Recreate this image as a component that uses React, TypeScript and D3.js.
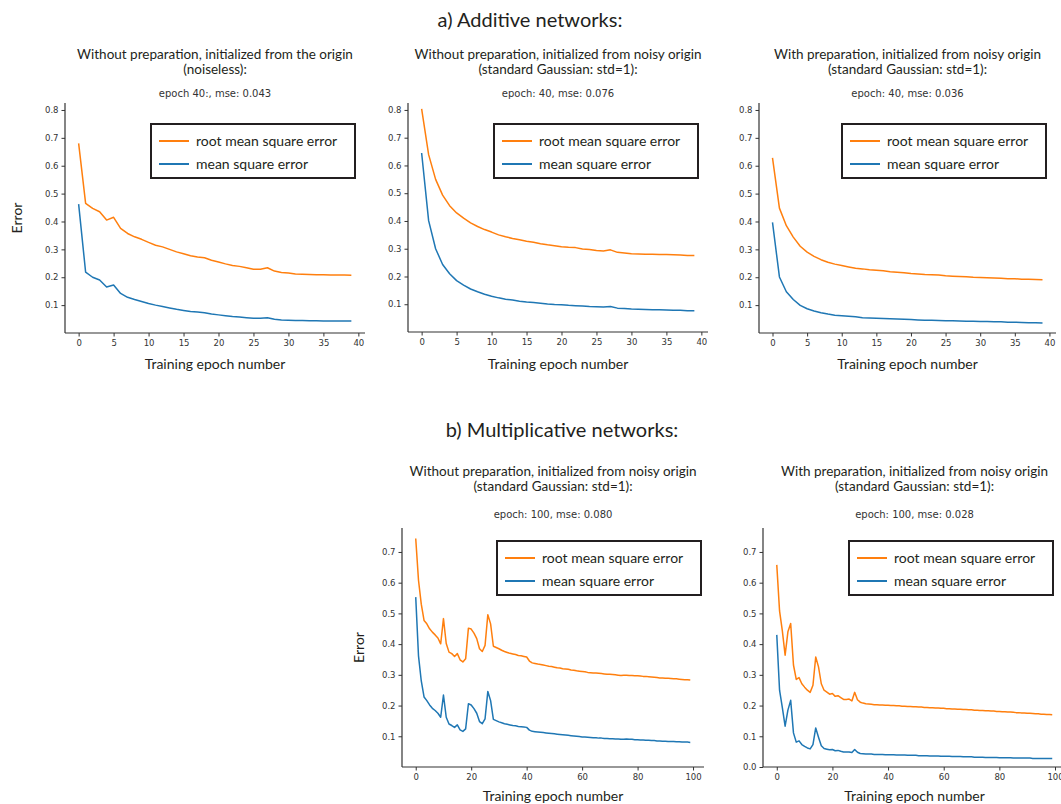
import React, { useEffect, useRef } from "react";
import * as d3 from "d3";

// ---- data ----
const topEpochs = d3.range(0, 40);
const bottomEpochs = d3.range(0, 100);

const p1Rmse = [0.680,0.465,0.447,0.435,0.405,0.415,0.375,0.357,0.345,0.336,0.325,0.315,0.309,0.300,0.291,0.284,0.277,0.273,0.270,0.261,0.255,0.248,0.242,0.239,0.234,0.229,0.229,0.234,0.222,0.217,0.215,0.212,0.211,0.210,0.209,0.209,0.208,0.208,0.208,0.207];
const p1Mse = [0.462,0.218,0.200,0.190,0.165,0.172,0.142,0.128,0.120,0.113,0.106,0.100,0.095,0.090,0.085,0.081,0.077,0.075,0.073,0.068,0.065,0.062,0.059,0.057,0.055,0.053,0.053,0.055,0.049,0.047,0.046,0.045,0.045,0.044,0.044,0.043,0.043,0.043,0.043,0.043];

const p2Rmse = [0.804,0.639,0.550,0.493,0.455,0.429,0.410,0.393,0.380,0.369,0.360,0.350,0.343,0.337,0.332,0.327,0.323,0.318,0.314,0.311,0.307,0.305,0.304,0.299,0.297,0.294,0.292,0.296,0.287,0.285,0.282,0.281,0.280,0.280,0.279,0.279,0.278,0.277,0.276,0.276];
const p2Mse = [0.645,0.401,0.300,0.243,0.210,0.185,0.169,0.155,0.145,0.136,0.129,0.123,0.118,0.115,0.111,0.108,0.106,0.104,0.101,0.099,0.098,0.096,0.095,0.094,0.092,0.091,0.090,0.092,0.086,0.085,0.083,0.082,0.081,0.080,0.080,0.079,0.078,0.078,0.077,0.077];

const p3Rmse = [0.628,0.448,0.385,0.344,0.311,0.290,0.275,0.263,0.254,0.247,0.242,0.237,0.232,0.230,0.227,0.225,0.223,0.220,0.218,0.216,0.213,0.212,0.210,0.209,0.208,0.205,0.204,0.203,0.202,0.200,0.199,0.198,0.197,0.196,0.195,0.195,0.193,0.193,0.192,0.191];
const p3Mse = [0.397,0.201,0.148,0.120,0.099,0.087,0.079,0.073,0.068,0.064,0.062,0.060,0.058,0.055,0.054,0.053,0.052,0.051,0.050,0.049,0.048,0.047,0.046,0.046,0.045,0.044,0.044,0.043,0.042,0.042,0.041,0.041,0.040,0.040,0.039,0.039,0.038,0.037,0.037,0.036];

const p4Rmse = [
  0.744,0.608,0.530,0.477,0.466,0.450,0.439,0.430,0.420,0.401,
  0.483,0.402,0.374,0.369,0.360,0.369,0.349,0.342,0.352,0.452,
  0.449,0.436,0.418,0.385,0.376,0.396,0.496,0.466,0.393,0.389,
  0.385,0.380,0.376,0.373,0.370,0.368,0.366,0.363,0.362,0.360,
  0.358,0.345,0.339,0.337,0.335,0.334,0.332,0.330,0.328,0.327,
  0.325,0.323,0.322,0.320,0.319,0.318,0.316,0.315,0.313,0.312,
  0.311,0.310,0.308,0.307,0.306,0.306,0.305,0.304,0.303,0.302,
  0.302,0.301,0.300,0.299,0.298,0.299,0.299,0.298,0.298,0.297,
  0.297,0.296,0.295,0.295,0.294,0.293,0.292,0.291,0.290,0.290,
  0.289,0.289,0.288,0.287,0.287,0.286,0.285,0.284,0.284,0.283,
];
const p4Mse = [
  0.553,0.362,0.280,0.228,0.216,0.202,0.191,0.184,0.175,0.162,
  0.234,0.162,0.140,0.135,0.129,0.137,0.121,0.116,0.124,0.206,
  0.202,0.190,0.175,0.148,0.141,0.157,0.246,0.216,0.155,0.151,
  0.147,0.144,0.141,0.139,0.137,0.135,0.134,0.132,0.131,0.130,
  0.129,0.120,0.116,0.115,0.114,0.113,0.112,0.111,0.110,0.109,
  0.108,0.107,0.106,0.105,0.104,0.103,0.102,0.101,0.100,0.099,
  0.098,0.098,0.097,0.096,0.095,0.095,0.094,0.094,0.093,0.093,
  0.092,0.092,0.091,0.091,0.090,0.090,0.091,0.090,0.090,0.089,
  0.089,0.088,0.088,0.087,0.087,0.086,0.086,0.085,0.085,0.084,
  0.084,0.083,0.083,0.083,0.082,0.082,0.081,0.081,0.081,0.080,
];

const p5Rmse = [
  0.658,0.508,0.443,0.364,0.440,0.467,0.332,0.285,0.291,0.271,
  0.260,0.250,0.243,0.266,0.358,0.326,0.271,0.250,0.244,0.237,
  0.239,0.230,0.232,0.226,0.220,0.220,0.221,0.215,0.243,0.219,
  0.211,0.208,0.206,0.205,0.204,0.203,0.203,0.202,0.202,0.201,
  0.201,0.200,0.200,0.199,0.199,0.198,0.198,0.197,0.197,0.196,
  0.196,0.195,0.195,0.194,0.194,0.193,0.193,0.192,0.192,0.191,
  0.191,0.190,0.190,0.189,0.189,0.188,0.188,0.187,0.187,0.186,
  0.186,0.185,0.185,0.184,0.184,0.183,0.183,0.182,0.182,0.181,
  0.181,0.180,0.180,0.179,0.179,0.178,0.177,0.177,0.176,0.176,
  0.175,0.175,0.174,0.173,0.173,0.172,0.172,0.171,0.171,0.170,
];
const p5Mse = [
  0.430,0.250,0.193,0.133,0.185,0.217,0.111,0.081,0.085,0.073,
  0.067,0.062,0.059,0.073,0.127,0.097,0.069,0.060,0.058,0.056,
  0.057,0.053,0.054,0.051,0.049,0.049,0.049,0.047,0.057,0.048,
  0.044,0.043,0.042,0.042,0.042,0.041,0.041,0.041,0.041,0.040,
  0.040,0.040,0.040,0.039,0.039,0.039,0.039,0.038,0.038,0.038,
  0.038,0.037,0.037,0.037,0.037,0.036,0.036,0.036,0.036,0.035,
  0.035,0.035,0.035,0.034,0.034,0.034,0.034,0.033,0.033,0.033,
  0.033,0.032,0.032,0.032,0.032,0.031,0.031,0.031,0.031,0.031,
  0.030,0.030,0.030,0.030,0.030,0.029,0.029,0.029,0.029,0.029,
  0.029,0.029,0.028,0.028,0.028,0.028,0.028,0.028,0.028,0.028,
];

const topXTicks = [0, 5, 10, 15, 20, 25, 30, 35, 40];
const bottomXTicks = [0, 20, 40, 60, 80, 100];
const topYTicks = [0.1, 0.2, 0.3, 0.4, 0.5, 0.6, 0.7, 0.8];
const p4YTicks = [0.1, 0.2, 0.3, 0.4, 0.5, 0.6, 0.7];
const p5YTicks = [0.0, 0.1, 0.2, 0.3, 0.4, 0.5, 0.6, 0.7];

const legendLabels = ["root mean square error", "mean square error"];
const seriesColors = ["#ff7f0e", "#1f77b4"];

const TITLE_FONT = "Lato, 'Noto Sans', sans-serif";
const TICK_FONT = "'DejaVu Sans', sans-serif";

const panels = [
  { title: ["Without preparation, initialized from the origin", "(noiseless):"], sub: "epoch 40:, mse: 0.043",
    epochs: topEpochs, rmse: p1Rmse, mse: p1Mse, xTicks: topXTicks, yTicks: topYTicks,
    xDomain: [-1.95, 40.95], yDomain: [0, 0.825], box: [65, 103, 365, 333], yLabel: 17, row: 0 },
  { title: ["Without preparation, initialized from noisy origin", "(standard Gaussian: std=1):"], sub: "epoch: 40, mse: 0.076",
    epochs: topEpochs, rmse: p2Rmse, mse: p2Mse, xTicks: topXTicks, yTicks: topYTicks,
    xDomain: [-1.95, 40.95], yDomain: [0, 0.825], box: [408, 103, 708, 332], yLabel: 0, row: 0 },
  { title: ["With preparation, initialized from noisy origin", "(standard Gaussian: std=1):"], sub: "epoch: 40, mse: 0.036",
    epochs: topEpochs, rmse: p3Rmse, mse: p3Mse, xTicks: topXTicks, yTicks: topYTicks,
    xDomain: [-1.95, 40.95], yDomain: [0, 0.825], box: [759, 103, 1056, 333], yLabel: 0, row: 0 },
  { title: ["Without preparation, initialized from noisy origin", "(standard Gaussian: std=1):"], sub: "epoch: 100, mse: 0.080",
    epochs: bottomEpochs, rmse: p4Rmse, mse: p4Mse, xTicks: bottomXTicks, yTicks: p4YTicks,
    xDomain: [-4.95, 103.95], yDomain: [0, 0.778], box: [402, 528, 704, 767], yLabel: 359, row: 1 },
  { title: ["With preparation, initialized from noisy origin", "(standard Gaussian: std=1):"], sub: "epoch: 100, mse: 0.028",
    epochs: bottomEpochs, rmse: p5Rmse, mse: p5Mse, xTicks: bottomXTicks, yTicks: p5YTicks,
    xDomain: [-4.95, 103.95], yDomain: [0, 0.778], box: [763, 528, 1066, 767], yLabel: 0, row: 1 },
];

const App = () => {
  const ref = useRef<SVGSVGElement>(null);

  useEffect(() => {
    const svg = d3.select(ref.current);
    svg.selectAll("*").remove();

    svg.append("rect").attr("width", 1061).attr("height", 804).attr("fill", "white");

    // section titles
    svg.append("text").attr("x", 530).attr("y", 27).attr("text-anchor", "middle")
      .style("font-family", TITLE_FONT).style("font-size", "20px").attr("fill", "#231f20")
      .text("a) Additive networks:");
    svg.append("text").attr("x", 562).attr("y", 437).attr("text-anchor", "middle")
      .style("font-family", TITLE_FONT).style("font-size", "20px").attr("fill", "#231f20")
      .text("b) Multiplicative networks:");

    panels.forEach((p) => {
      const [x0, y0, x1, y1] = p.box;
      const cx = (x0 + x1) / 2;
      const x = d3.scaleLinear().domain(p.xDomain).range([x0, x1]);
      const y = d3.scaleLinear().domain(p.yDomain).range([y1, y0]);
      const g = svg.append("g");

      // titles
      const t1 = p.row === 0 ? 59 : 476;
      p.title.forEach((line, i) => {
        g.append("text").attr("x", cx).attr("y", t1 + i * 15).attr("text-anchor", "middle")
          .style("font-family", TITLE_FONT).style("font-size", "13.5px").attr("fill", "#231f20")
          .text(line);
      });
      g.append("text").attr("x", cx).attr("y", p.row === 0 ? 97 : 518).attr("text-anchor", "middle")
        .style("font-family", TICK_FONT).style("font-size", "10px").attr("fill", "#333")
        .text(p.sub);

      // axes
      const xAxis = d3.axisBottom(x).tickValues(p.xTicks).tickSize(3.5).tickPadding(3)
        .tickFormat(d3.format("d"));
      const yAxis = d3.axisLeft(y).tickValues(p.yTicks).tickSize(3.5).tickPadding(3)
        .tickFormat(d3.format(".1f"));

      const gx = g.append("g").attr("transform", `translate(0,${y1})`).call(xAxis);
      const gy = g.append("g").attr("transform", `translate(${x0},0)`).call(yAxis);
      [gx, gy].forEach((ax) => {
        ax.select(".domain").attr("stroke", "#333").attr("stroke-width", 1.2);
        ax.selectAll(".tick line").attr("stroke", "#333").attr("stroke-width", 1);
        ax.selectAll(".tick text").style("font-family", TICK_FONT).style("font-size", "8.5px")
          .attr("fill", "#333");
      });
      gx.select(".domain").attr("d", `M${x0},0H${x1}`);
      gy.select(".domain").attr("d", `M0,${y0}V${y1}`);

      // axis labels
      g.append("text").attr("x", cx).attr("y", p.row === 0 ? 369 : 801).attr("text-anchor", "middle")
        .style("font-family", TITLE_FONT).style("font-size", "14px").attr("fill", "#231f20")
        .text("Training epoch number");
      if (p.yLabel) {
        const ly = (y0 + y1) / 2;
        g.append("text").attr("transform", `translate(${p.yLabel + 5},${ly}) rotate(-90)`)
          .attr("text-anchor", "middle")
          .style("font-family", TITLE_FONT).style("font-size", "14px").attr("fill", "#231f20")
          .text("Error");
      }

      // lines
      const line = d3.line<number>().x((_, i) => x(p.epochs[i])).y((d) => y(d));
      [p.rmse, p.mse].forEach((vals, k) => {
        g.append("path").datum(vals).attr("d", line).attr("fill", "none")
          .attr("stroke", seriesColors[k]).attr("stroke-width", 1.5).attr("stroke-linejoin", "round");
      });

      // legend
      const lw = 204, lh = 54;
      const lx = p.row === 0 ? x1 - 10 - lw : Math.min(x1 - 3, 1053) - lw;
      const ly = y0 + (p.row === 0 ? 21 : 13);
      const lg = g.append("g").attr("transform", `translate(${lx},${ly})`);
      lg.append("rect").attr("width", lw).attr("height", lh).attr("fill", "white")
        .attr("stroke", "#231f20").attr("stroke-width", 2);
      legendLabels.forEach((lab, i) => {
        const yy = 17 + i * 23;
        lg.append("line").attr("x1", 8).attr("x2", 38).attr("y1", yy).attr("y2", yy)
          .attr("stroke", seriesColors[i]).attr("stroke-width", 2);
        lg.append("text").attr("x", 45).attr("y", yy).attr("dy", "0.35em")
          .style("font-family", TITLE_FONT).style("font-size", "14px").attr("fill", "#231f20")
          .text(lab);
      });
    });
  }, []);

  return (
    <div style={{ position: "absolute", left: 0, top: 0 }}>
      <svg ref={ref} width={1061} height={804} style={{ display: "block" }} />
    </div>
  );
};

export default App;
